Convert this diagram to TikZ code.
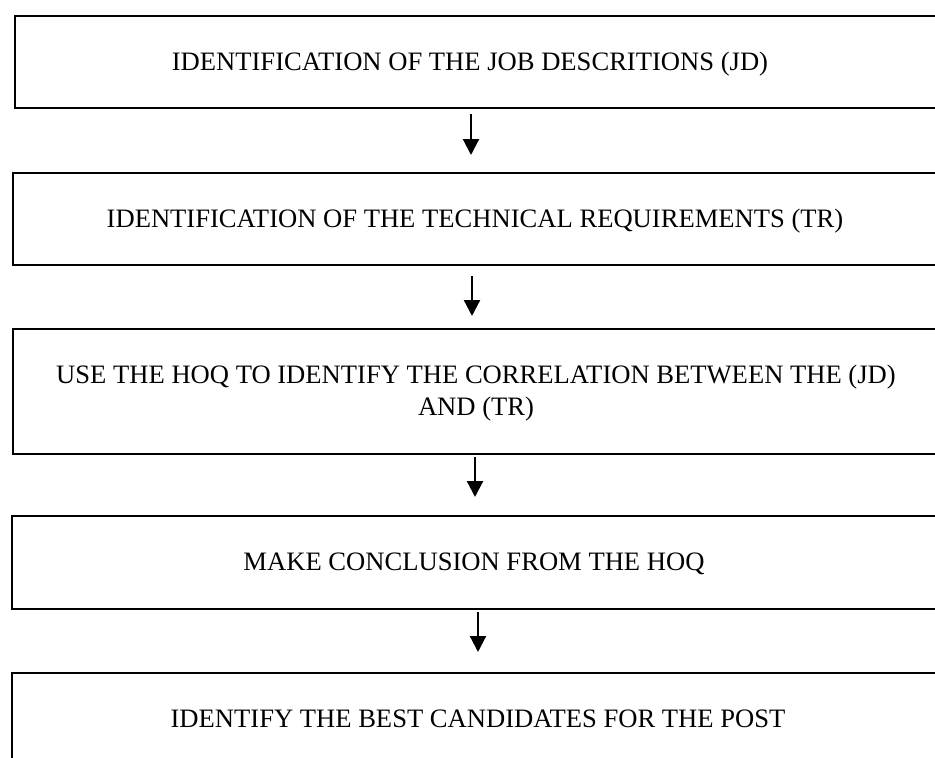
\documentclass[tikz,border=0pt]{standalone}
\usepackage{fontspec}
\setmainfont{Liberation Serif}
\usetikzlibrary{arrows.meta}
\begin{document}
\begin{tikzpicture}[x=1pt,y=-1pt,
  stepbox/.style={draw=black, line width=2.3pt, rectangle, minimum width=1000pt, minimum height=#1, anchor=north west, inner sep=0pt},
  steptext/.style={anchor=base, inner sep=0pt, align=center, font=\fontsize{26.6}{32}\selectfont},
  flowarrow/.style={line width=2.2pt, -{Triangle[length=16pt,width=16pt]}}]
\useasboundingbox (0,0) rectangle (935,758);
\clip (0,0) rectangle (935,758);
\fill[white] (0,0) rectangle (935,758);
% boxes
\node[stepbox=92pt] (b1) at (14,15) {};
\node[stepbox=92pt] (b2) at (12,172) {};
\node[stepbox=125pt] (b3) at (12,328) {};
\node[stepbox=93pt] (b4) at (11,515) {};
\node[stepbox=120pt] (b5) at (11,672) {};
% texts
\node[steptext] (t1) at (470,70) {IDENTIFICATION OF THE JOB DESCRITIONS (JD)};
\node[steptext] (t2) at (475,227) {IDENTIFICATION OF THE TECHNICAL REQUIREMENTS (TR)};
\node[steptext] (t3) at (476,415) {USE THE HOQ TO IDENTIFY THE CORRELATION BETWEEN THE (JD)\\AND (TR)};
\node[steptext] (t4) at (474,570) {MAKE CONCLUSION FROM THE HOQ};
\node[steptext] (t5) at (478,727) {IDENTIFY THE BEST CANDIDATES FOR THE POST};
% arrows
\coordinate (a1s) at (471,114); \coordinate (a1e) at (471,155);
\coordinate (a2s) at (472,276); \coordinate (a2e) at (472,316);
\coordinate (a3s) at (475,457); \coordinate (a3e) at (475,497);
\coordinate (a4s) at (478,612); \coordinate (a4e) at (478,652);
\draw[flowarrow] (a1s) -- (a1e);
\draw[flowarrow] (a2s) -- (a2e);
\draw[flowarrow] (a3s) -- (a3e);
\draw[flowarrow] (a4s) -- (a4e);
\end{tikzpicture}
\end{document}
